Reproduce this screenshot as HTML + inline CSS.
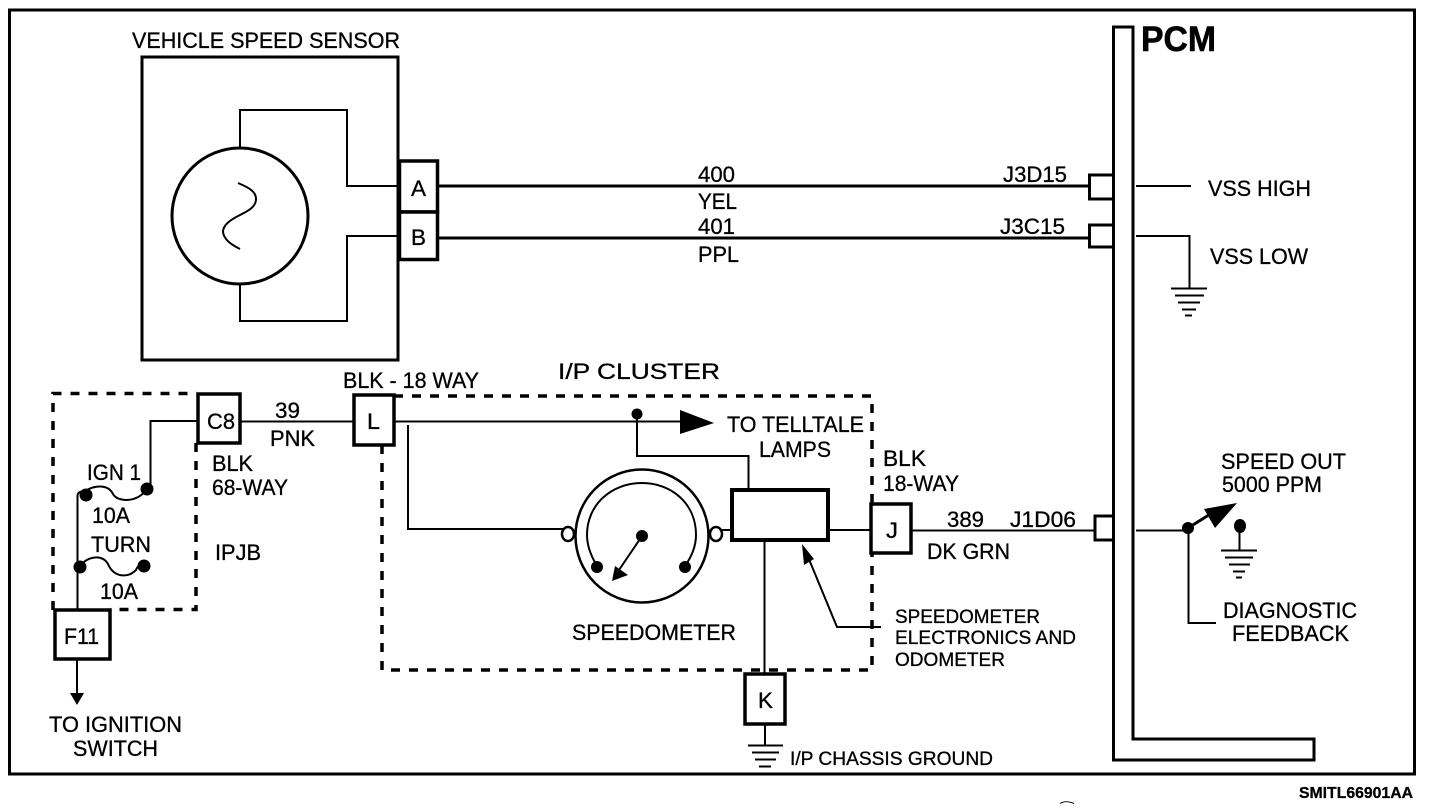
<!DOCTYPE html>
<html><head><meta charset="utf-8"><style>
html,body{margin:0;padding:0;background:#fff;width:1440px;height:810px;overflow:hidden}
svg{display:block}
text{font-family:"Liberation Sans",sans-serif;font-size:22px;fill:#000;stroke:#000;stroke-width:.3}
.s{font-size:19px}
.l{fill:none;stroke:#000;stroke-width:2}
.t{fill:none;stroke:#000;stroke-width:3}
.b{fill:#fff;stroke:#000;stroke-width:3.5}
.d{fill:none;stroke:#000;stroke-width:3.5;stroke-dasharray:9 9}
</style></head><body>
<svg width="1440" height="810" viewBox="0 0 1440 810" xmlns="http://www.w3.org/2000/svg">
<rect x="9.5" y="10" width="1405" height="764" class="t"/>
<!-- PCM -->
<path d="M1133 739V27H1113.500V760H1314V739Z" class="t"/>
<text x="1141" y="51" textLength="75" lengthAdjust="spacingAndGlyphs" style="font-size:35px;font-weight:bold;stroke-width:.6">PCM</text>
<!-- VSS -->
<rect x="142" y="57" width="256" height="303" class="t"/>
<text x="132" y="48" textLength="268" lengthAdjust="spacingAndGlyphs">VEHICLE SPEED SENSOR</text>
<circle cx="240" cy="216" r="68" class="t"/>
<path d="M240 148V110H347V186H400M240 284V321H347V236H400" class="l"/>
<path d="M238 183C250 188 256 192 256 199C256 207 248 211 240 215C230 220 223 225 223 232C224 240 232 245 240 249" class="l"/>
<rect x="399.500" y="161" width="38" height="51" class="b"/>
<rect x="399.500" y="212" width="38" height="47.500" class="b"/>
<text x="411" y="196" textLength="15" lengthAdjust="spacingAndGlyphs">A</text>
<text x="411" y="245" textLength="15" lengthAdjust="spacingAndGlyphs">B</text>
<path d="M438 186H1090M438 238H1090" class="t"/>
<text x="698" y="182" textLength="37" lengthAdjust="spacingAndGlyphs">400</text>
<text x="698" y="209" textLength="39" lengthAdjust="spacingAndGlyphs">YEL</text>
<text x="698" y="234" textLength="37" lengthAdjust="spacingAndGlyphs">401</text>
<text x="698" y="262" textLength="41" lengthAdjust="spacingAndGlyphs">PPL</text>
<text x="1003" y="182" textLength="64" lengthAdjust="spacingAndGlyphs">J3D15</text>
<text x="1000" y="234" textLength="65" lengthAdjust="spacingAndGlyphs">J3C15</text>
<path d="M1113 175H1089.500V199H1113M1113 225H1089.500V247H1113" class="t"/>
<path d="M1136 186H1191" class="l"/>
<path d="M1136 236H1189.500V288" class="l"/>
<text x="1208" y="196" textLength="103" lengthAdjust="spacingAndGlyphs">VSS HIGH</text>
<text x="1210" y="264" textLength="98" lengthAdjust="spacingAndGlyphs">VSS LOW</text>
<path d="M1171 288.500H1207M1175 295.500H1204M1178 302.500H1200M1182 309.500H1196M1185 315.500H1192" class="l"/>
<!-- IPJB -->
<path d="M196 443V609.500H110M53 610V393.500H197" class="d"/>
<rect x="198" y="394" width="42" height="49" class="b"/>
<text x="207" y="429" textLength="28" lengthAdjust="spacingAndGlyphs">C8</text>
<path d="M197 421H150.500V489M240 421.500H353" class="l"/>
<rect x="354" y="395" width="40" height="50" class="b"/>
<text x="367" y="429" textLength="13" lengthAdjust="spacingAndGlyphs">L</text>
<text x="275" y="418" textLength="25" lengthAdjust="spacingAndGlyphs">39</text>
<text x="270" y="446" textLength="45" lengthAdjust="spacingAndGlyphs">PNK</text>
<text x="343" y="388" textLength="136" lengthAdjust="spacingAndGlyphs">BLK - 18 WAY</text>
<text x="212" y="471" textLength="41" lengthAdjust="spacingAndGlyphs">BLK</text>
<text x="212" y="495" textLength="76" lengthAdjust="spacingAndGlyphs">68-WAY</text>
<text x="215" y="560" textLength="46" lengthAdjust="spacingAndGlyphs">IPJB</text>
<text x="87" y="480" textLength="54" lengthAdjust="spacingAndGlyphs">IGN 1</text>
<text x="92" y="523" textLength="38" lengthAdjust="spacingAndGlyphs">10A</text>
<text x="91" y="552" textLength="60" lengthAdjust="spacingAndGlyphs">TURN</text>
<text x="100" y="599" textLength="38" lengthAdjust="spacingAndGlyphs">10A</text>
<path d="M77.500 610V496C77.500 493 80 491 85 491M85 491C95 485 108 484 113 494C118 503 138 502 146 490M80 566C88 556 102 554 108 564C114 578 128 578 136 570C138 565 140 565 144 565" class="l"/>
<circle cx="86" cy="495" r="6.500"/><circle cx="147" cy="489" r="6.500"/>
<circle cx="80" cy="567" r="6.500"/><circle cx="144" cy="566" r="6.500"/>
<rect x="55" y="610" width="55" height="49" class="b"/>
<text x="64" y="644" textLength="35" lengthAdjust="spacingAndGlyphs">F11</text>
<path d="M77 659V694" class="l"/>
<path d="M70 693H84L77 705Z"/>
<text x="49" y="732" textLength="133" lengthAdjust="spacingAndGlyphs">TO IGNITION</text>
<text x="73" y="756" textLength="85" lengthAdjust="spacingAndGlyphs">SWITCH</text>
<!-- Cluster -->
<text x="558" y="379" textLength="162" lengthAdjust="spacingAndGlyphs">I/P CLUSTER</text>
<path d="M394 396H872V670H382V445" class="d"/>
<path d="M394 421.500H682M408 425V529H566M637 413V456H748.500V490" class="l"/>
<circle cx="637" cy="414" r="5.500"/>
<path d="M680 410L714 423L680 434Z"/>
<text x="727" y="432" textLength="137" lengthAdjust="spacingAndGlyphs">TO TELLTALE</text>
<text x="759" y="457" textLength="72" lengthAdjust="spacingAndGlyphs">LAMPS</text>
<text x="883" y="466" textLength="43" lengthAdjust="spacingAndGlyphs">BLK</text>
<text x="883" y="491" textLength="76" lengthAdjust="spacingAndGlyphs">18-WAY</text>
<circle cx="642" cy="536" r="66.500" fill="none" stroke="#000" stroke-width="2.500"/>
<path d="M597 566C591 556 587 545 587 535C587 504 612 483 642 483C672 483 696 504 696 535C696 545 692 556 685 566" class="l"/>
<circle cx="597" cy="567" r="6"/><circle cx="685" cy="567" r="6"/><circle cx="642" cy="536" r="6"/>
<path d="M642 536L617 573" class="l"/>
<path d="M612 581L615 566L628 575Z"/>
<ellipse cx="568" cy="534" rx="6" ry="7" fill="#fff" stroke="#000" stroke-width="2.500"/>
<ellipse cx="716" cy="534" rx="6" ry="7" fill="#fff" stroke="#000" stroke-width="2.500"/>
<path d="M722 530H732M828 530H872" class="l"/>
<rect x="732" y="490" width="96" height="50" fill="#fff" stroke="#000" stroke-width="4"/>
<rect x="871" y="504" width="40" height="49" class="b"/>
<text x="886" y="538" textLength="12" lengthAdjust="spacingAndGlyphs">J</text>
<text x="572" y="640" textLength="164" lengthAdjust="spacingAndGlyphs">SPEEDOMETER</text>
<path d="M764.500 540V674" class="l"/>
<rect x="745" y="674" width="40" height="50" class="b"/>
<text x="758" y="708" textLength="15" lengthAdjust="spacingAndGlyphs">K</text>
<path d="M765 724V746" class="l"/>
<path d="M748 745.500H783M752 752.500H779M755 759.500H776M759 766.500H771" class="l"/>
<text x="790" y="765" textLength="203" lengthAdjust="spacingAndGlyphs" class="s">I/P CHASSIS GROUND</text>
<path d="M806 552L837 627H881" class="l"/>
<path d="M802 544L814 559L804 565Z"/>
<text x="895" y="623" textLength="145" lengthAdjust="spacingAndGlyphs" class="s">SPEEDOMETER</text>
<text x="895" y="644" textLength="181" lengthAdjust="spacingAndGlyphs" class="s">ELECTRONICS AND</text>
<text x="895" y="666" textLength="110" lengthAdjust="spacingAndGlyphs" class="s">ODOMETER</text>
<path d="M911 530.500H1095" class="l"/>
<text x="947" y="527" textLength="37" lengthAdjust="spacingAndGlyphs">389</text>
<text x="1010" y="527" textLength="66" lengthAdjust="spacingAndGlyphs">J1D06</text>
<text x="927" y="559" textLength="83" lengthAdjust="spacingAndGlyphs">DK GRN</text>
<path d="M1113 516H1095V540H1113" class="t"/>
<!-- Speed out -->
<path d="M1136 530.500H1187M1188.500 530V623H1216" class="l"/>
<path d="M1188 528L1212 513" class="t"/>
<circle cx="1188" cy="528" r="6"/>
<path d="M1237 503L1204 509L1215 528Z"/>
<ellipse cx="1240" cy="526" rx="6" ry="7"/>
<path d="M1239.500 526V550" class="l"/>
<path d="M1221 550.500H1257M1225 557.500H1253M1229 564.500H1250M1233 571.500H1245M1236 577.500H1242" class="l"/>
<text x="1221" y="469" textLength="125" lengthAdjust="spacingAndGlyphs">SPEED OUT</text>
<text x="1222" y="492" textLength="100" lengthAdjust="spacingAndGlyphs">5000 PPM</text>
<text x="1223" y="618" textLength="134" lengthAdjust="spacingAndGlyphs">DIAGNOSTIC</text>
<text x="1232" y="641" textLength="117" lengthAdjust="spacingAndGlyphs">FEEDBACK</text>
<text x="1299" y="798" textLength="114" lengthAdjust="spacingAndGlyphs" style="font-size:16px;font-weight:bold">SMITL66901AA</text>
<path d="M1060 803.500C1064 801 1068 801 1074 803.500" fill="none" stroke="#000"/>
</svg>
</body></html>
